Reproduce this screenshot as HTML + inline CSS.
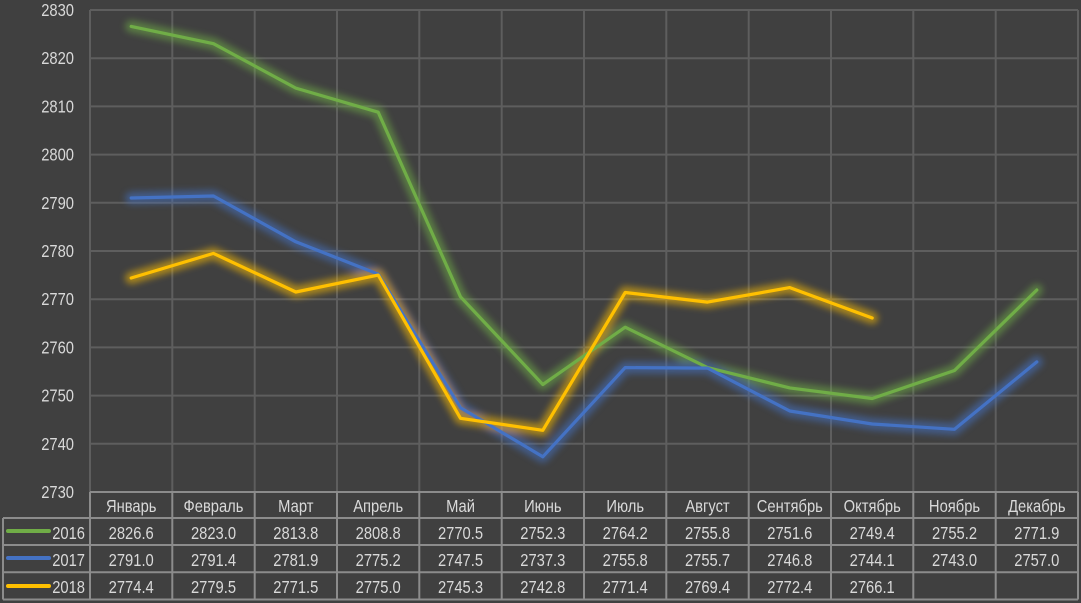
<!DOCTYPE html>
<html><head><meta charset="utf-8"><style>
html,body{margin:0;padding:0;background:#404040;}
svg{display:block;}
text{font-family:"Liberation Sans",Arial,sans-serif;fill:#d9d9d9;font-size:18px;}
</style></head><body>
<svg width="1081" height="603" viewBox="0 0 1081 603" xmlns="http://www.w3.org/2000/svg">
<defs>
<filter id="glow" x="-20%" y="-20%" width="140%" height="140%"><feGaussianBlur stdDeviation="3.5"/></filter>
</defs>
<rect width="1081" height="603" fill="#404040"/>
<g stroke="#5e5e5e" stroke-width="2">
<line x1="90" y1="10" x2="1078" y2="10"/>
<line x1="90" y1="58.2" x2="1078" y2="58.2"/>
<line x1="90" y1="106.4" x2="1078" y2="106.4"/>
<line x1="90" y1="154.6" x2="1078" y2="154.6"/>
<line x1="90" y1="202.8" x2="1078" y2="202.8"/>
<line x1="90" y1="251" x2="1078" y2="251"/>
<line x1="90" y1="299.2" x2="1078" y2="299.2"/>
<line x1="90" y1="347.4" x2="1078" y2="347.4"/>
<line x1="90" y1="395.6" x2="1078" y2="395.6"/>
<line x1="90" y1="443.8" x2="1078" y2="443.8"/>
<line x1="90" y1="10" x2="90" y2="492"/>
<line x1="172.3" y1="10" x2="172.3" y2="492"/>
<line x1="254.7" y1="10" x2="254.7" y2="492"/>
<line x1="337" y1="10" x2="337" y2="492"/>
<line x1="419.3" y1="10" x2="419.3" y2="492"/>
<line x1="501.7" y1="10" x2="501.7" y2="492"/>
<line x1="584" y1="10" x2="584" y2="492"/>
<line x1="666.3" y1="10" x2="666.3" y2="492"/>
<line x1="748.7" y1="10" x2="748.7" y2="492"/>
<line x1="831" y1="10" x2="831" y2="492"/>
<line x1="913.3" y1="10" x2="913.3" y2="492"/>
<line x1="995.7" y1="10" x2="995.7" y2="492"/>
<line x1="1078" y1="10" x2="1078" y2="492"/>
</g>
<g text-anchor="end">
<text transform="translate(74,16) scale(0.82,1)">2830</text>
<text transform="translate(74,64.2) scale(0.82,1)">2820</text>
<text transform="translate(74,112.4) scale(0.82,1)">2810</text>
<text transform="translate(74,160.6) scale(0.82,1)">2800</text>
<text transform="translate(74,208.8) scale(0.82,1)">2790</text>
<text transform="translate(74,257) scale(0.82,1)">2780</text>
<text transform="translate(74,305.2) scale(0.82,1)">2770</text>
<text transform="translate(74,353.4) scale(0.82,1)">2760</text>
<text transform="translate(74,401.6) scale(0.82,1)">2750</text>
<text transform="translate(74,449.8) scale(0.82,1)">2740</text>
<text transform="translate(74,498) scale(0.82,1)">2730</text>
</g>
<g fill="none" stroke-linejoin="round" stroke-linecap="round" filter="url(#glow)" opacity="0.55">
<polyline stroke="#70ad47" stroke-width="12" points="131.2,26.4 213.5,43.7 295.8,88.1 378.2,112.2 460.5,296.8 542.8,384.5 625.2,327.2 707.5,367.6 789.8,387.9 872.2,398.5 954.5,370.5 1036.8,290"/>
<polyline stroke="#4472c4" stroke-width="12" points="131.2,198 213.5,196 295.8,241.8 378.2,274.1 460.5,407.7 542.8,456.8 625.2,367.6 707.5,368.1 789.8,411 872.2,424 954.5,429.3 1036.8,361.9"/>
<polyline stroke="#ffc000" stroke-width="12" points="131.2,278 213.5,253.4 295.8,292 378.2,275.1 460.5,418.3 542.8,430.3 625.2,292.5 707.5,302.1 789.8,287.6 872.2,318"/>
</g>
<g fill="none" stroke-linejoin="round" stroke-linecap="round" stroke-width="3.2">
<polyline stroke="#70ad47" points="131.2,26.4 213.5,43.7 295.8,88.1 378.2,112.2 460.5,296.8 542.8,384.5 625.2,327.2 707.5,367.6 789.8,387.9 872.2,398.5 954.5,370.5 1036.8,290"/>
<polyline stroke="#4472c4" points="131.2,198 213.5,196 295.8,241.8 378.2,274.1 460.5,407.7 542.8,456.8 625.2,367.6 707.5,368.1 789.8,411 872.2,424 954.5,429.3 1036.8,361.9"/>
<polyline stroke="#ffc000" points="131.2,278 213.5,253.4 295.8,292 378.2,275.1 460.5,418.3 542.8,430.3 625.2,292.5 707.5,302.1 789.8,287.6 872.2,318"/>
</g>
<g stroke="#8c8c8c" stroke-width="2" fill="none">
<line x1="90" y1="492" x2="1078" y2="492"/>
<line x1="3" y1="518" x2="1078" y2="518"/>
<line x1="3" y1="545" x2="1078" y2="545"/>
<line x1="3" y1="572.3" x2="1078" y2="572.3"/>
<line x1="3" y1="599.5" x2="1078" y2="599.5"/>
<line x1="3" y1="518" x2="3" y2="599.5"/>
<line x1="90" y1="492" x2="90" y2="599.5"/>
<line x1="172.3" y1="492" x2="172.3" y2="599.5"/>
<line x1="254.7" y1="492" x2="254.7" y2="599.5"/>
<line x1="337" y1="492" x2="337" y2="599.5"/>
<line x1="419.3" y1="492" x2="419.3" y2="599.5"/>
<line x1="501.7" y1="492" x2="501.7" y2="599.5"/>
<line x1="584" y1="492" x2="584" y2="599.5"/>
<line x1="666.3" y1="492" x2="666.3" y2="599.5"/>
<line x1="748.7" y1="492" x2="748.7" y2="599.5"/>
<line x1="831" y1="492" x2="831" y2="599.5"/>
<line x1="913.3" y1="492" x2="913.3" y2="599.5"/>
<line x1="995.7" y1="492" x2="995.7" y2="599.5"/>
<line x1="1078" y1="492" x2="1078" y2="599.5"/>
</g>
<g stroke-width="4" stroke-linecap="round">
<line x1="8" y1="531" x2="49" y2="531" stroke="#70ad47"/>
<line x1="8" y1="558" x2="49" y2="558" stroke="#4472c4"/>
<line x1="8" y1="586" x2="49" y2="586" stroke="#ffc000"/>
</g>
<g text-anchor="end">
<text transform="translate(85,539) scale(0.82,1)">2016</text>
<text transform="translate(85,566) scale(0.82,1)">2017</text>
<text transform="translate(85,593) scale(0.82,1)">2018</text>
</g>
<g text-anchor="middle">
<text transform="translate(131.2,512) scale(0.82,1)">Январь</text>
<text transform="translate(213.5,512) scale(0.82,1)">Февраль</text>
<text transform="translate(295.8,512) scale(0.82,1)">Март</text>
<text transform="translate(378.2,512) scale(0.82,1)">Апрель</text>
<text transform="translate(460.5,512) scale(0.82,1)">Май</text>
<text transform="translate(542.8,512) scale(0.82,1)">Июнь</text>
<text transform="translate(625.2,512) scale(0.82,1)">Июль</text>
<text transform="translate(707.5,512) scale(0.82,1)">Август</text>
<text transform="translate(789.8,512) scale(0.82,1)">Сентябрь</text>
<text transform="translate(872.2,512) scale(0.82,1)">Октябрь</text>
<text transform="translate(954.5,512) scale(0.82,1)">Ноябрь</text>
<text transform="translate(1036.8,512) scale(0.82,1)">Декабрь</text>

<text transform="translate(131.2,539) scale(0.82,1)">2826.6</text>
<text transform="translate(213.5,539) scale(0.82,1)">2823.0</text>
<text transform="translate(295.8,539) scale(0.82,1)">2813.8</text>
<text transform="translate(378.2,539) scale(0.82,1)">2808.8</text>
<text transform="translate(460.5,539) scale(0.82,1)">2770.5</text>
<text transform="translate(542.8,539) scale(0.82,1)">2752.3</text>
<text transform="translate(625.2,539) scale(0.82,1)">2764.2</text>
<text transform="translate(707.5,539) scale(0.82,1)">2755.8</text>
<text transform="translate(789.8,539) scale(0.82,1)">2751.6</text>
<text transform="translate(872.2,539) scale(0.82,1)">2749.4</text>
<text transform="translate(954.5,539) scale(0.82,1)">2755.2</text>
<text transform="translate(1036.8,539) scale(0.82,1)">2771.9</text>

<text transform="translate(131.2,566) scale(0.82,1)">2791.0</text>
<text transform="translate(213.5,566) scale(0.82,1)">2791.4</text>
<text transform="translate(295.8,566) scale(0.82,1)">2781.9</text>
<text transform="translate(378.2,566) scale(0.82,1)">2775.2</text>
<text transform="translate(460.5,566) scale(0.82,1)">2747.5</text>
<text transform="translate(542.8,566) scale(0.82,1)">2737.3</text>
<text transform="translate(625.2,566) scale(0.82,1)">2755.8</text>
<text transform="translate(707.5,566) scale(0.82,1)">2755.7</text>
<text transform="translate(789.8,566) scale(0.82,1)">2746.8</text>
<text transform="translate(872.2,566) scale(0.82,1)">2744.1</text>
<text transform="translate(954.5,566) scale(0.82,1)">2743.0</text>
<text transform="translate(1036.8,566) scale(0.82,1)">2757.0</text>

<text transform="translate(131.2,593) scale(0.82,1)">2774.4</text>
<text transform="translate(213.5,593) scale(0.82,1)">2779.5</text>
<text transform="translate(295.8,593) scale(0.82,1)">2771.5</text>
<text transform="translate(378.2,593) scale(0.82,1)">2775.0</text>
<text transform="translate(460.5,593) scale(0.82,1)">2745.3</text>
<text transform="translate(542.8,593) scale(0.82,1)">2742.8</text>
<text transform="translate(625.2,593) scale(0.82,1)">2771.4</text>
<text transform="translate(707.5,593) scale(0.82,1)">2769.4</text>
<text transform="translate(789.8,593) scale(0.82,1)">2772.4</text>
<text transform="translate(872.2,593) scale(0.82,1)">2766.1</text>
</g>
</svg>
</body></html>
